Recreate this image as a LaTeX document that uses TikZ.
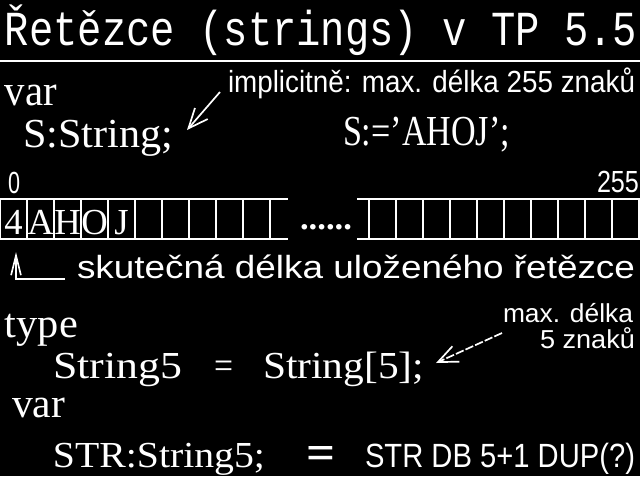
\documentclass[tikz,border=0pt]{standalone}
\usepackage{graphicx}
\usepackage{fontspec}
\setmainfont{Liberation Serif}
\setsansfont{Liberation Sans}
\newfontfamily\monofont{Liberation Mono}
\usetikzlibrary{arrows.meta}

\newlength\px
\setlength\px{0.025cm}
% text squeezed to a given width and cap height
\newcommand\fitto[4][H]{\resizebox{#2}{#3}{\smash{#4}\vphantom{#1}}}
\newcommand\fith[2]{\resizebox{!}{#1}{\smash{#2}\vphantom{H}}}

\begin{document}
\begin{tikzpicture}[
    x=\px, y=-\px,
    scr/.style={
        anchor=base west,
        inner sep=0pt,
        outer sep=0pt,
        text=white
    },
    cellch/.style={
        scr,
        anchor=base
    },
    grid/.style={
        draw=white,
        line width=1.4pt
    },
    ptr/.style={
        -{Straight Barb[length=14pt,width=12pt]},
        draw=white,
        line width=1.2pt
    }
]
\useasboundingbox (0,0) rectangle (640,476);
\fill[black] (0,0) rectangle (640,476);

% Nodes
\node (title) [scr] at (5,45) {\fitto{632\px}{32\px}{\monofont Řetězce (strings) v TP 5.5}};
\node (var1) [scr] at (5,105) {\fitto[x]{52\px}{20\px}{var}};
\node (sdecl) [scr] at (23,147) {\fitto{150\px}{27\px}{S:String;}};
\node (impl) [scr] at (228,92) {\fitto{407\px}{20\px}{\sffamily implicitně: max. délka 255 znaků}};
\node (sassign) [scr] at (343,145) {\fitto{167\px}{28\px}{S:='AHOJ';}};
\node (lo) [scr] at (8,193) {\fitto{12\px}{20\px}{\sffamily 0}};
\node (hi) [scr] at (597,192) {\fitto{42\px}{20\px}{\sffamily 255}};
\foreach \ch [count=\i from 0] in {4,A,H,O,J}
    \node (c\i) [cellch] at (13.5+27*\i,234) {\fith{24\px}{\ch}};
\node (dots) [scr] at (300,229) {\bfseries\fitto[.]{52\px}{5\px}{......}};
\node (skut) [scr] at (77,278) {\fitto{558\px}{21\px}{\sffamily skutečná délka uloženého řetězce}};
\node (type) [scr] at (5,337) {\fitto[x]{73\px}{19\px}{type}};
\node (str5) [scr] at (53,378) {\fitto{129\px}{25\px}{String5}};
\node (eq) [scr] at (214,378) {\fitto{19\px}{25\px}{=}};
\node (str5def) [scr] at (263,378) {\fitto{161\px}{25\px}{String[5];}};
\node (maxd) [scr] at (503,322) {\fitto{130\px}{17\px}{\sffamily max. délka}};
\node (zn5) [scr] at (540,348) {\fitto{95\px}{17\px}{\sffamily 5 znaků}};
\node (var2) [scr] at (12,417) {\fitto[x]{53\px}{19\px}{var}};
\node (strdecl) [scr] at (53,467) {\fitto{212\px}{24\px}{STR:String5;}};
\node (eqbig) [scr] at (306,469) {\bfseries\fitto[=]{29\px}{23\px}{=}};
\node (strdb) [scr] at (365,467) {\fitto{270\px}{22\px}{\sffamily STR DB 5+1 DUP(?)}};

% Lines
\draw[grid] (0,61) -- (640,61);
\draw[grid] (0,199) -- (288,199) (0,239) -- (288,239);
\draw[grid] (357,199) -- (640,199) (357,239) -- (640,239);
\foreach \i in {0,...,10} {
    \draw[grid] (27*\i,199) -- (27*\i,239);
    \draw[grid] (369+27*\i,199) -- (369+27*\i,239);
}

% Paths
\draw [ptr] ([shift={(-8,0)}]impl.base west) -- ([shift={(14,-17)}]sdecl.base east);
\draw [ptr, dash pattern=on 6pt off 1.5pt] ([shift={(-1,11)}]maxd.base west) -- ([shift={(12,-15)}]str5def.base east);
\draw [ptr, -{Straight Barb[length=14pt,width=7pt]}] ([shift={(-12,1)}]skut.base west) -| ([shift={(2.5,18)}]c0.base);

\end{tikzpicture}
\end{document}
